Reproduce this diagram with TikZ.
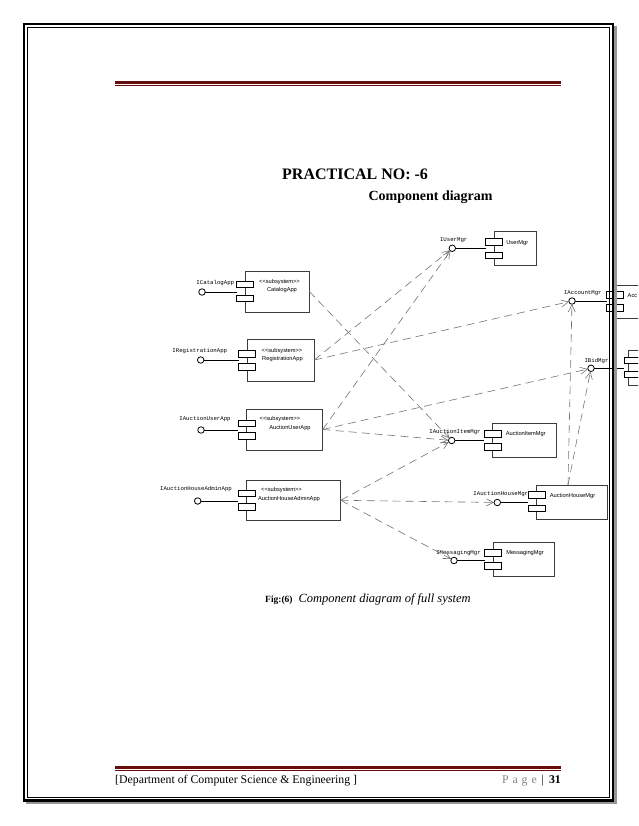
\documentclass[tikz,border=0pt]{standalone}
\usepackage{fontspec}
\setmainfont{Liberation Serif}
\newfontfamily\lblmono{Liberation Mono}
\newfontfamily\lblsans{Liberation Sans}
\usetikzlibrary{arrows.meta}
\definecolor{rulered}{RGB}{105,12,12}
\definecolor{depgray}{RGB}{115,115,115}
\definecolor{boxline}{RGB}{60,60,60}
\definecolor{pagegray}{RGB}{150,150,150}
\definecolor{pagetxt}{RGB}{130,130,130}
\begin{document}
\begin{tikzpicture}[x=1pt,y=-1pt,
  comp/.style={draw=boxline, line width=0.9pt, inner sep=0, outer sep=0},
  portbox/.style={draw=black, line width=0.8pt, fill=white, minimum width=17pt, minimum height=6.5pt, inner sep=0, outer sep=0},
  lolli/.style={circle, draw=black, line width=0.8pt, fill=white, minimum size=6.5pt, inner sep=0, outer sep=0},
  stemline/.style={draw=black, line width=0.9pt},
  ilabel/.style={font=\lblmono\fontsize{5.7}{6}\selectfont, inner sep=0},
  ctext/.style={font=\lblsans\fontsize{5.7}{6}\selectfont, inner sep=0},
  dep/.style={draw=depgray, line width=0.6pt, dash pattern=on 8pt off 5pt, -{Straight Barb[length=7pt,width=7pt,line width=0.6pt]}},
  rulethick/.style={draw=rulered, line width=3.3pt},
  rulethin/.style={draw=rulered, line width=0.9pt}
]
\clip (0,0) rectangle (638,826);
\fill[white] (0,0) rectangle (638,826);

% header / footer rules
\coordinate (rtl) at (115,82.3); \coordinate (rtr) at (561,82.3);
\draw[rulethick] (rtl) -- (rtr);
\coordinate (rtl2) at (115,85.6); \coordinate (rtr2) at (561,85.6);
\draw[rulethin] (rtl2) -- (rtr2);
\coordinate (rbl) at (115,767.5); \coordinate (rbr) at (561,767.5);
\draw[rulethick] (rbl) -- (rbr);
\coordinate (rbl2) at (115,770.8); \coordinate (rbr2) at (561,770.8);
\draw[rulethin] (rbl2) -- (rbr2);

% titles
\node[anchor=base west, inner sep=0, font=\bfseries\fontsize{16}{18}\selectfont] (title) at (282,179.5) {PRACTICAL NO: -6};
\node[anchor=base west, inner sep=0, font=\bfseries\fontsize{14}{16}\selectfont] (subtitle) at (368.3,200.5) {Component diagram};
\node[anchor=base west, inner sep=0, font=\bfseries\fontsize{9.5}{11}\selectfont] (figno) at (265,602.5) {Fig:(6)};
\node[anchor=base west, inner sep=0, font=\itshape\fontsize{12.5}{14}\selectfont] (figcap) at (298.3,602.5) {Component diagram of full system};

% footer
\node[anchor=base west, inner sep=0, font=\fontsize{11.8}{13}\selectfont] (dept) at (115,783.5) {[Department of Computer Science \& Engineering ]};
\node[anchor=base east, inner sep=0, font=\fontsize{11.8}{13}\selectfont] (pageno) at (561,783.5) {{\color{pagetxt}P\,\,a\,\,g\,\,e} \,|\, \textbf{31}};

% component boxes
\node[comp, minimum width=64.3pt, minimum height=41pt] (cat) at (277.2,291.5) {};
\node[comp, minimum width=67pt, minimum height=42pt] (reg) at (280.8,360) {};
\node[comp, minimum width=76pt, minimum height=41pt] (aua) at (284.7,429.5) {};
\node[comp, minimum width=94pt, minimum height=40.7pt] (ahaa) at (293.7,500.3) {};
\node[comp, minimum width=42pt, minimum height=33.3pt] (um) at (515,248.3) {};
\node[comp, minimum width=50pt, minimum height=33.3pt] (am) at (640,301.7) {};
\node[comp, minimum width=50pt, minimum height=35pt] (bm) at (653,367.5) {};
\node[comp, minimum width=64pt, minimum height=34pt] (aim) at (524.7,440.3) {};
\node[comp, minimum width=70.6pt, minimum height=34pt] (ahm) at (572,502) {};
\node[comp, minimum width=60.7pt, minimum height=33.7pt] (mm) at (523.7,559.2) {};

% ports
\node[portbox] (catp1) at (245,284.5) {};
\node[portbox] (catp2) at (245,298.5) {};
\node[portbox] (regp1) at (247.3,353.7) {};
\node[portbox] (regp2) at (247.3,367) {};
\node[portbox] (auap1) at (246.7,423.3) {};
\node[portbox] (auap2) at (246.7,436) {};
\node[portbox] (ahaap1) at (246.7,493.3) {};
\node[portbox] (ahaap2) at (246.7,507) {};
\node[portbox] (ump1) at (494,242) {};
\node[portbox] (ump2) at (494,255.3) {};
\node[portbox] (amp1) at (615,294.7) {};
\node[portbox] (amp2) at (615,308) {};
\node[portbox] (bmp1) at (632.5,360.3) {};
\node[portbox] (bmp2) at (632.5,374.5) {};
\node[portbox] (aimp1) at (492.7,433.7) {};
\node[portbox] (aimp2) at (492.7,446.7) {};
\node[portbox] (ahmp1) at (536.7,495) {};
\node[portbox] (ahmp2) at (536.7,508.3) {};
\node[portbox] (mmp1) at (493.3,553) {};
\node[portbox] (mmp2) at (493.3,565.7) {};

% lollipop circles
\node[lolli] (catc) at (202,292) {};
\node[lolli] (regc) at (200.7,360) {};
\node[lolli] (auac) at (201,430) {};
\node[lolli] (ahaac) at (197.7,501) {};
\node[lolli] (umc) at (452.3,248.3) {};
\node[lolli] (amc) at (572,301) {};
\node[lolli] (bmc) at (591,368.3) {};
\node[lolli] (aimc) at (451.7,440.5) {};
\node[lolli] (ahmc) at (497.3,502.5) {};
\node[lolli] (mmc) at (454,560.5) {};

% stems
\draw[stemline] (catc) -- (catp1.west |- catc);
\draw[stemline] (regc) -- (regp1.west |- regc);
\draw[stemline] (auac) -- (auap1.west |- auac);
\draw[stemline] (ahaac) -- (ahaap1.west |- ahaac);
\draw[stemline] (umc) -- (ump1.west |- umc);
\draw[stemline] (amc) -- (amp1.west |- amc);
\draw[stemline] (bmc) -- (bmp1.west |- bmc);
\draw[stemline] (aimc) -- (aimp1.west |- aimc);
\draw[stemline] (ahmc) -- (ahmp1.west |- ahmc);
\draw[stemline] (mmc) -- (mmp1.west |- mmc);

% dependencies
\coordinate (ahmtop) at (568,485);
\draw[dep] (cat.east) -- (aimc);
\draw[dep] (reg.east) -- (umc);
\draw[dep] (reg.east) -- (amc);
\draw[dep] (aua.east) -- (umc);
\draw[dep] (aua.east) -- (bmc);
\draw[dep] (aua.east) -- (aimc);
\draw[dep] (ahaa.east) -- (aimc);
\draw[dep] (ahaa.east) -- (ahmc);
\draw[dep] (ahaa.east) -- (mmc);
\draw[dep] (ahmtop) -- (amc);
\draw[dep] (ahmtop) -- (bmc);

% interface labels
\node[ilabel] (catl) at (215.3,283) {ICatalogApp};
\node[ilabel] (regl) at (199.8,350.7) {IRegistrationApp};
\node[ilabel] (aual) at (205,419) {IAuctionUserApp};
\node[ilabel] (ahaal) at (196,489.5) {IAuctionHouseAdminApp};
\node[ilabel] (uml) at (453.7,240.7) {IUserMgr};
\node[ilabel] (aml) at (582.8,292.7) {IAccountMgr};
\node[ilabel] (bml) at (596.5,360.7) {IBidMgr};
\node[ilabel] (aiml) at (455,431.7) {IAuctionItemMgr};
\node[ilabel] (ahml) at (500.8,494.3) {IAuctionHouseMgr};
\node[ilabel] (mml) at (458.5,552.7) {IMessagingMgr};

% component texts
\node[ctext] (cats) at (279.5,282) {<<subsystem>>};
\node[ctext] (catn) at (282,290) {CatalogApp};
\node[ctext] (regs) at (282,351) {<<subsystem>>};
\node[ctext] (regn) at (282.5,358.7) {RegistrationApp};
\node[ctext] (auas) at (280,419) {<<subsystem>>};
\node[ctext] (auan) at (290,427.7) {AuctionUserApp};
\node[ctext] (ahaas) at (281.5,490) {<<subsystem>>};
\node[ctext] (ahaan) at (289,498.7) {AuctionHouseAdminApp};
\node[ctext] (umn) at (517.3,242.7) {UserMgr};
\node[ctext, anchor=west] (amn) at (627.5,295.5) {Acc};
\node[ctext] (aimn) at (525.8,434.3) {AuctionItemMgr};
\node[ctext] (ahmn) at (572.5,496) {AuctionHouseMgr};
\node[ctext] (mmn) at (525,553.3) {MessagingMgr};

% page border
\draw[pagegray, line width=2.5pt] (615.5,26) -- (615.5,803) -- (26,803);
\draw[black, line width=2.2pt] (24,24.3) rectangle (613,800.5);
\draw[black, line width=0.8pt] (27.5,27.5) rectangle (609.5,797.5);
\end{tikzpicture}
\end{document}
